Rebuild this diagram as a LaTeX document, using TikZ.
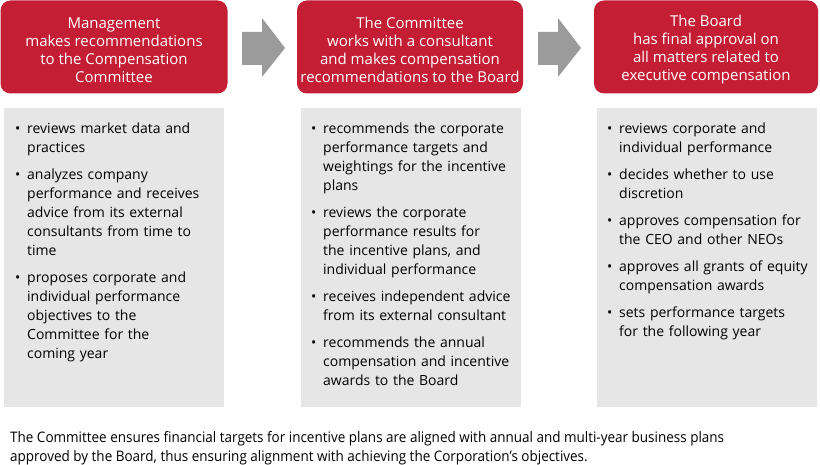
\documentclass[tikz,border=0pt]{standalone}
\usepackage{fontspec}
\setmainfont{Open Sans}
\newfontfamily\condfont[FakeStretch=0.93]{Open Sans}
\usepackage{tikz}
\usetikzlibrary{positioning,calc}

\definecolor{headred}{RGB}{196,30,52}
\definecolor{panelgray}{RGB}{230,230,230}
\definecolor{arrowgray}{RGB}{155,155,155}

\newcommand{\litem}[1]{\noindent\hangindent=12pt\hangafter=1\makebox[12pt][l]{\textbullet}#1\par}

\begin{document}
\begin{tikzpicture}[
  x=1pt, y=-1pt,
  head/.style={rectangle, rounded corners=10pt, fill=headred,
               minimum height=93pt, inner sep=0pt},
  headlabel/.style={text=white, align=center, inner sep=0pt, yshift=-3pt,
                    font=\fontsize{15}{18}\selectfont},
  panel/.style={rectangle, fill=panelgray, minimum width=220pt,
                minimum height=299pt, inner sep=0pt, anchor=north west},
  listtext/.style={anchor=north west, inner sep=0pt, text width=206pt,
                   align=left, font=\fontsize{14}{19}\selectfont},
  flowarrow/.style={fill=arrowgray},
]
\useasboundingbox (0,0) rectangle (820,465);

% --- header boxes ---
\node[head, minimum width=227pt, label={[headlabel]center:{Management\\makes recommendations\\to the Compensation\\Committee}}] (head1) at (114,47) {};
\node[head, minimum width=226pt, label={[headlabel]center:{The Committee\\works with a consultant\\and makes compensation\\recommendations to the Board}}] (head2) at (410,47) {};
\node[head, minimum width=224pt, label={[headlabel]center:{The Board\\has final approval on\\all matters related to\\executive compensation}}] (head3) at (706,47) {};

% --- arrows between the steps ---
\foreach \ax in {242,538} {
  \fill[flowarrow] (\ax,32) -- ++(20,0) -- ++(0,-14) -- ++(23,30)
    -- ++(-23,29) -- ++(0,-12) -- ++(-20,0) -- cycle;
}

% --- panels ---
\node[panel] (panel1) at (4,108) {};
\node[panel] (panel2) at (301,108) {};
\node[panel] (panel3) at (597,108) {};

% --- bullet lists ---
\node[listtext] (list1) at (15,123) {\setlength{\parskip}{8pt}\hyphenpenalty=10000%
  \litem{reviews market data and\newline practices}
  \litem{analyzes company\newline performance and receives\newline advice from its external\newline consultants from time to\newline time}
  \litem{proposes corporate and\newline individual performance\newline objectives to the\newline Committee for the\newline coming year}};
\node[listtext] (list2) at (311,123) {\setlength{\parskip}{8pt}\hyphenpenalty=10000%
  \litem{recommends the corporate\newline performance targets and\newline weightings for the incentive\newline plans}
  \litem{reviews the corporate\newline performance results for\newline the incentive plans, and\newline individual performance}
  \litem{receives independent advice\newline from its external consultant}
  \litem{recommends the annual\newline compensation and incentive\newline awards to the Board}};
\node[listtext] (list3) at (607,123) {\setlength{\parskip}{8pt}\hyphenpenalty=10000%
  \litem{reviews corporate and\newline individual performance}
  \litem{decides whether to use\newline discretion}
  \litem{approves compensation for\newline the CEO and other NEOs}
  \litem{approves all grants of equity\newline compensation awards}
  \litem{sets performance targets\newline for the following year}};

% --- closing note ---
\node[anchor=north west, inner sep=0pt, align=left,
      font=\condfont\fontsize{14.5}{19}\selectfont] (note) at (10,431)
  {The Committee ensures financial targets for incentive plans are aligned with annual and multi-year business plans\\
   approved by the Board, thus ensuring alignment with achieving the Corporation’s objectives.};

\end{tikzpicture}
\end{document}
